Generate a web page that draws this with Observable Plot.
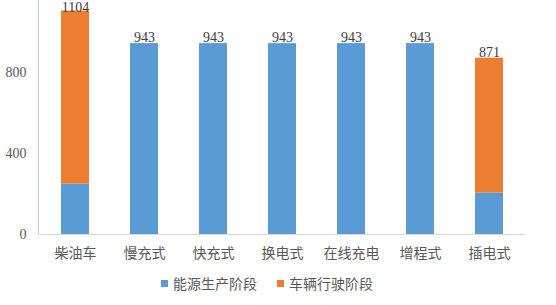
<!DOCTYPE html>
<html>
<head>
<meta charset="utf-8">
<script src="https://cdn.jsdelivr.net/npm/d3@7"></script>
<script src="https://cdn.jsdelivr.net/npm/@observablehq/plot@0.6"></script>
<style>
  html, body { margin: 0; padding: 0; background: #fff; }
  #chart { width: 556px; }
  .legend { display: flex; justify-content: center; align-items: center; margin-top: 5px;
    font-family: "Noto Sans CJK SC", sans-serif; font-size: 14px; color: #595959; padding-right: 22px; }
  .legend .item { display: flex; align-items: center; margin: 0 10px; }
  .legend .sw { width: 7px; height: 7px; margin-right: 5px; }
</style>
</head>
<body>
<div id="chart"></div>
<script>
const categories = ["柴油车", "慢充式", "快充式", "换电式", "在线充电", "增程式", "插电式"];
const seriesNames = ["能源生产阶段", "车辆行驶阶段"];
const energyStage = [249, 943, 943, 943, 943, 943, 205];
const drivingStage = [855, 0, 0, 0, 0, 0, 666];
const totals = [1104, 943, 943, 943, 943, 943, 871];
const yTicks = [0, 400, 800];
const colors = ["#5B9BD5", "#ED7D31"];

const rows = [];
categories.forEach((c, i) => {
  rows.push({cat: c, series: seriesNames[0], value: energyStage[i]});
  rows.push({cat: c, series: seriesNames[1], value: drivingStage[i]});
});
const labels = categories.map((c, i) => ({cat: c, total: totals[i]}));
const textStyle = {x: "cat", y: "total", text: d => String(d.total),
  fontFamily: "Liberation Serif, serif", fontSize: 14, fill: "#404040"};

const plot = Plot.plot({
  width: 556,
  height: 268,
  marginLeft: 38,
  marginRight: 31,
  marginTop: 0,
  marginBottom: 34,
  style: {background: "#fff"},
  x: {domain: categories, paddingInner: 0.6, paddingOuter: 0.3, label: null, axis: null},
  y: {domain: [0, 1156], label: null, axis: null},
  color: {domain: seriesNames, range: colors},
  marks: [
    Plot.ruleY([0], {stroke: "#D9D9D9", strokeWidth: 1}),
    Plot.barY(rows, {x: "cat", y: "value", fill: "series", order: seriesNames}),
    Plot.text(labels, {...textStyle, filter: d => d.total < 1000, dy: -6}),
    Plot.text(labels, {...textStyle, filter: d => d.total >= 1000, dy: -4}),
    Plot.axisX({tickSize: 0, tickPadding: 14, fontFamily: "Noto Sans CJK SC, sans-serif",
      fontSize: 14, fill: "#595959"}),
    Plot.axisY({ticks: yTicks, tickSize: 0, tickPadding: 12, fontFamily: "Liberation Serif, serif",
      fontSize: 14, fill: "#595959"}),
    Plot.frame({anchor: "left", stroke: "#C5D3E2"})
  ]
});
document.getElementById("chart").appendChild(plot);

const legend = d3.select("#chart").append("div").attr("class", "legend");
seriesNames.forEach((s, i) => {
  const item = legend.append("div").attr("class", "item");
  item.append("div").attr("class", "sw").style("background", colors[i]);
  item.append("span").text(s);
});
</script>
</body>
</html>
